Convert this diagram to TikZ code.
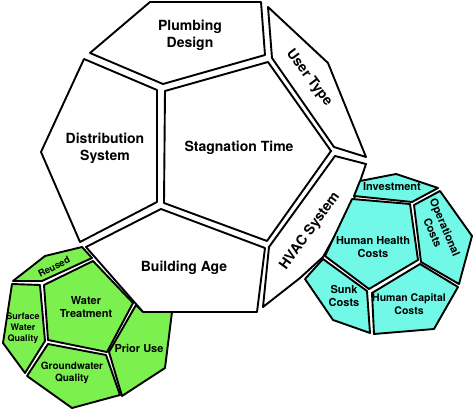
\documentclass[tikz,border=0pt]{standalone}
\usepackage{fontspec}
\setmainfont{TeX Gyre Heros}
\definecolor{leafgreen}{RGB}{124,240,78}
\definecolor{aquacyan}{RGB}{114,248,230}
\tikzset{
  face/.style={draw=black, line width=1.9pt, line join=round, fill=white},
  gface/.style={face, fill=leafgreen},
  cface/.style={face, fill=aquacyan},
  lbl/.style={font=\bfseries\fontsize{14}{17}\selectfont, align=center, inner sep=0pt},
  mlbl/.style={font=\bfseries\fontsize{11}{13.3}\selectfont, align=center, inner sep=0pt},
  slbl/.style={font=\bfseries\fontsize{9}{11.3}\selectfont, align=center, inner sep=0pt}
}
\begin{document}
\begin{tikzpicture}[x=1pt,y=-1pt]
\useasboundingbox (0,0) rectangle (474,411);
% big white dodecahedron
\draw[face] (150,2) -- (261,2) -- (265,55) -- (163,84) -- (90,53) -- cycle;
\draw[face] (268,7) -- (328,63) -- (366,157) -- (334,147) -- (272,58) -- cycle;
\draw[face] (84,59) -- (157,90) -- (157,202) -- (80,242) -- (41,152) -- cycle;
\draw[face] (165,91) -- (268,62) -- (331,151) -- (267,241) -- (164,203) -- cycle;
\draw[face] (86,247) -- (161,209) -- (265,248) -- (257,312) -- (143,312) -- cycle;
\draw[face] (335,156) -- (366,164) -- (352,205) -- (323,257) -- (300,278) -- (263,307) -- (269,247) -- cycle;
% green dodecahedron
\draw[gface] (13,281) -- (45,256) -- (82,247) -- (92,258) -- (42,281) -- cycle;
\draw[gface] (44,285) -- (93,261) -- (133,303) -- (107,352) -- (48,340) -- cycle;
\draw[gface] (12,284) -- (40,285) -- (45,341) -- (25,373) -- (3,343) -- cycle;
\draw[gface] (48,344) -- (106,355) -- (120,395) -- (72,408) -- (27,376) -- cycle;
\draw[gface] (136,305) -- (143,312) -- (172,312) -- (165,368) -- (122,396) -- (109,352) -- cycle;
% cyan dodecahedron
\draw[cface] (354,196) -- (360,181) -- (396,174) -- (438,188) -- (412,202) -- cycle;
\draw[cface] (414,205) -- (440,191) -- (472,236) -- (459,284) -- (421,262) -- cycle;
\draw[cface] (352,199) -- (410,204) -- (418,260) -- (369,289) -- (325,256) -- cycle;
\draw[cface] (323,259) -- (367,291) -- (370,333) -- (333,320) -- (305,279) -- cycle;
\draw[cface] (420,264) -- (458,287) -- (434,329) -- (374,334) -- (372,293) -- cycle;
% labels
\node[lbl] (plumbing) at (190,35) {Plumbing\\Design};
\node[lbl] (stagnation) at (239,148) {Stagnation Time};
\node[lbl] (distribution) at (105,148) {Distribution\\System};
\node[lbl] (building) at (184,268) {Building Age};
\node[lbl, rotate=-53] (user) at (309,78) {User Type};
\node[lbl, rotate=54] (hvac) at (310,231) {HVAC System};
\node[mlbl] (invest) at (392,187) {Investment};
\node[mlbl] (health) at (373,247) {Human Health\\Costs};
\node[mlbl, rotate=-67] (oper) at (439,230) {Operational\\Costs};
\node[mlbl] (sunk) at (344,296) {Sunk\\Costs};
\node[mlbl, font=\bfseries\fontsize{10.5}{13}\selectfont] (capital) at (409,304) {Human Capital\\Costs};
\node[slbl, font=\bfseries\fontsize{9.5}{11}\selectfont, rotate=27] (reused) at (54,267) {Reused};
\node[mlbl] (treat) at (86,307) {Water\\Treatment};
\node[slbl] (surface) at (23,328) {Surface\\Water\\Quality};
\node[slbl, font=\bfseries\fontsize{10}{12}\selectfont] (ground) at (72,373) {Groundwater\\Quality};
\node[mlbl] (prior) at (139,348) {Prior Use};
\end{tikzpicture}
\end{document}
